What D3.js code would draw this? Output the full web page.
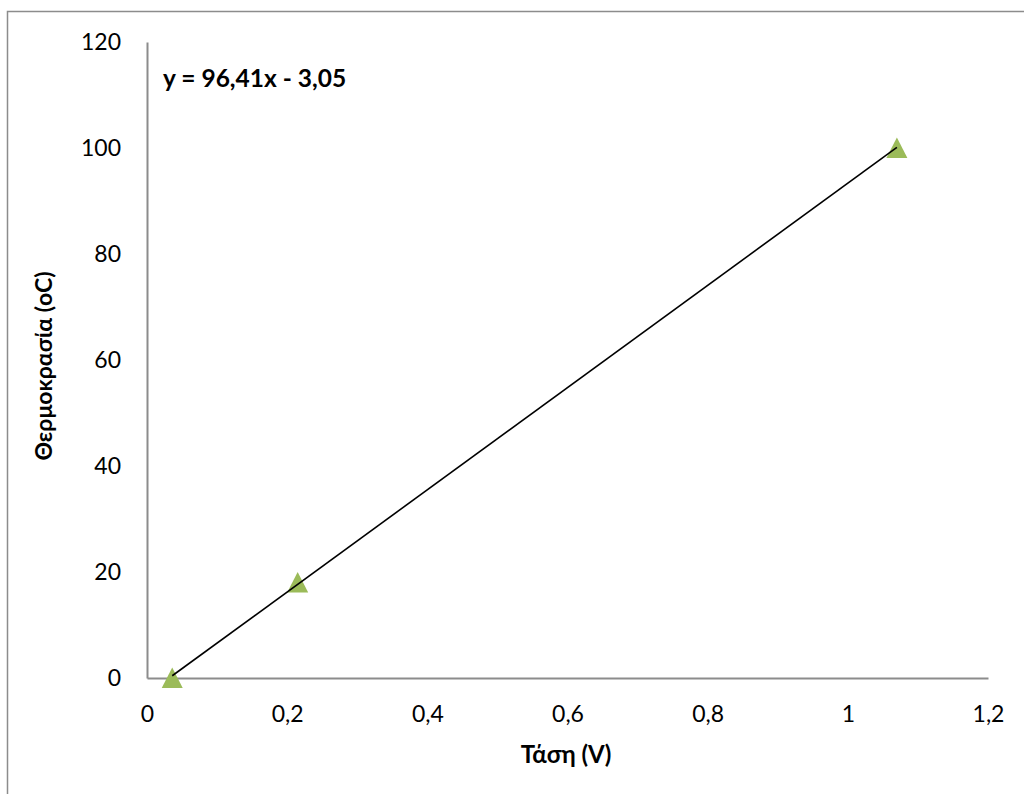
<!DOCTYPE html>
<html><head><meta charset="utf-8">
<script src="https://cdn.jsdelivr.net/npm/d3@7"></script>
<style>body{margin:0;background:#fff}svg{display:block}</style>
</head><body><svg id="c" width="1024" height="794"></svg>
<script>
const xValues = [0.036, 0.215, 1.07];
const yValues = [0, 18, 100];
const xTicks = [0, 0.2, 0.4, 0.6, 0.8, 1, 1.2];
const yTicks = [0, 20, 40, 60, 80, 100, 120];
const slope = 96.41, intercept = -3.05;
const equationLabel = "y = 96,41x - 3,05";
const xTitle = "Τάση (V)";
const yTitle = "Θερμοκρασία (oC)";

const svg = d3.select("#c");
const font = "Lato, 'Open Sans', sans-serif";
const x = d3.scaleLinear().domain([0, 1.2]).range([147, 988]);
const y = d3.scaleLinear().domain([0, 120]).range([678, 42]);
const fmt = d => String(d).replace(".", ",");

svg.append("rect").attr("x", 7.5).attr("y", 11.5).attr("width", 1030).attr("height", 800)
  .attr("fill", "none").attr("stroke", "#8c8c8c").attr("stroke-width", 1.5);

const gx = svg.append("g").attr("transform", `translate(0,${y(0)})`)
  .call(d3.axisBottom(x).tickValues(xTicks).tickFormat(fmt).tickSize(0).tickPadding(28));
const gy = svg.append("g").attr("transform", `translate(${x(0)},0)`)
  .call(d3.axisLeft(y).tickValues(yTicks).tickSize(0).tickPadding(26));
[gx, gy].forEach(g => {
  g.select(".domain").attr("stroke", "#8c8c8c").attr("stroke-width", 2);
  g.selectAll("text").attr("font-family", font).attr("font-size", 23).attr("fill", "#000");
});
gx.selectAll("text").attr("dy", "0.71em");

const xs = d3.extent(xValues);
const triangle = {
  draw(ctx) { ctx.moveTo(0, -10.5); ctx.lineTo(10.5, 10); ctx.lineTo(-10.5, 10); ctx.closePath(); }
};
svg.append("g").selectAll("path").data(xValues).join("path")
  .attr("d", d3.symbol().type(triangle))
  .attr("transform", (d, i) => `translate(${x(d)},${y(yValues[i])})`)
  .attr("fill", "#9bbb59");

svg.append("line")
  .attr("x1", x(xs[0])).attr("y1", y(slope * xs[0] + intercept))
  .attr("x2", x(xs[1])).attr("y2", y(slope * xs[1] + intercept))
  .attr("stroke", "#000").attr("stroke-width", 1.6);

svg.append("text").attr("x", 163).attr("y", 87).text(equationLabel)
  .attr("font-family", font).attr("font-weight", "bold").attr("font-size", 24.5);

svg.append("text").attr("x", 566).attr("y", 763).attr("text-anchor", "middle").text(xTitle)
  .attr("font-family", font).attr("font-weight", "bold").attr("font-size", 24);

svg.append("text").attr("transform", "translate(52,366) rotate(-90)").attr("text-anchor", "middle").text(yTitle)
  .attr("font-family", font).attr("font-weight", "bold").attr("font-size", 23);
</script></body></html>
